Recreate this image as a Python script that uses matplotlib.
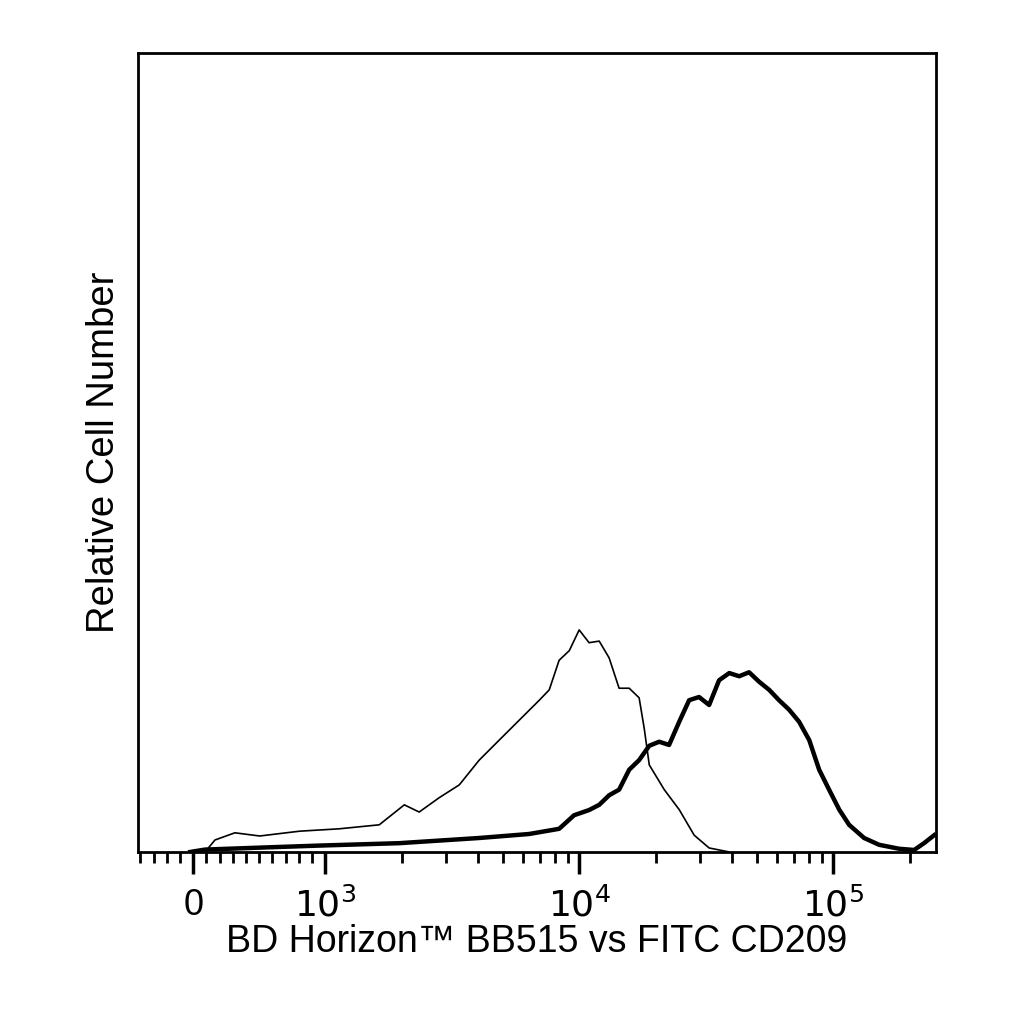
import matplotlib
matplotlib.use("Agg")
import matplotlib.pyplot as plt
from matplotlib.ticker import FixedLocator, NullFormatter

plt.rcParams['font.family'] = ['Liberation Sans', 'DejaVu Sans']

# thin (isotype control) histogram
thin_x = [90, 165, 316, 504, 805, 1135, 1632, 2048, 2344, 2812, 3372, 4040, 4842, 5807,
          6966, 7623, 8337, 9140, 10000, 10940, 11990, 13120, 14360, 15740, 17220, 18030,
          18880, 21630, 24770, 28370, 32490, 38990]
thin_y = [0, 1.5, 2.4, 2.0, 2.6, 2.9, 3.4, 5.9, 5.0, 6.8, 8.4, 11.5, 14.0, 16.5,
          19.0, 20.3, 24.0, 25.2, 27.8, 26.2, 26.4, 24.3, 20.5, 20.5, 19.3, 15.5,
          10.9, 7.8, 5.3, 2.1, 0.5, 0]
# thick (stained) histogram
thick_x = [-22, 90, 429, 955, 1954, 4040, 6350, 8340, 9550, 10940, 11990, 13120, 14360,
           15740, 17220, 18880, 20650, 22600, 24770, 27100, 29650, 32490, 35560, 38990,
           42660, 46670, 51170, 55980, 61240, 67140, 73450, 80540, 88100, 96400, 105700,
           115600, 132400, 151700, 182000, 208400, 228000, 250000]
thick_y = [0, 0.3, 0.5, 0.8, 1.1, 1.75, 2.25, 2.9, 4.6, 5.25, 5.9, 7.1, 7.8, 10.3,
           11.5, 13.3, 13.8, 13.4, 16.3, 19.0, 19.4, 18.4, 21.5, 22.4, 22.0, 22.5,
           21.3, 20.3, 19.0, 17.8, 16.3, 14.0, 10.3, 7.8, 5.3, 3.4, 1.75, 0.9,
           0.4, 0.25, 1.1, 2.1]

major_ticks = [0, 1e3, 1e4, 1e5]
major_labels = ['0', r'$10^3$', r'$10^4$', r'$10^5$']
minor_ticks = [-400, -300, -200, -100, 100, 200, 300, 400, 500, 600, 700, 800, 900] + \
    [m * 10**e for e in (3, 4, 5) for m in range(2, 10) if m * 10**e < 262144]

fig = plt.figure(figsize=(10.24, 10.24), dpi=100)
ax = fig.add_axes([0.135, 0.168, 0.779, 0.780])
ax.set_xscale('symlog', linthresh=1000, linscale=0.468)
ax.plot(thin_x, thin_y, color='black', lw=1.2)
ax.plot(thick_x, thick_y, color='black', lw=3.2)
ax.set_xlim(-416, 254000)
ax.set_ylim(0, 100)
ax.set_yticks([])
ax.xaxis.set_major_locator(FixedLocator(major_ticks))
ax.set_xticklabels(major_labels, fontsize=26)
ax.xaxis.set_minor_locator(FixedLocator(minor_ticks))
ax.xaxis.set_minor_formatter(NullFormatter())
ax.tick_params(axis='x', which='major', length=16, width=2.5, direction='out', pad=10)
ax.tick_params(axis='x', which='minor', length=8, width=2, direction='out')
for s in ax.spines.values():
    s.set_linewidth(2)
ax.set_xlabel('BD Horizon\u2122 BB515 vs FITC CD209', fontsize=27, labelpad=0)
ax.set_ylabel('Relative Cell Number', fontsize=27.5, labelpad=12)
fig.savefig('out.png', dpi=100, facecolor='white')
